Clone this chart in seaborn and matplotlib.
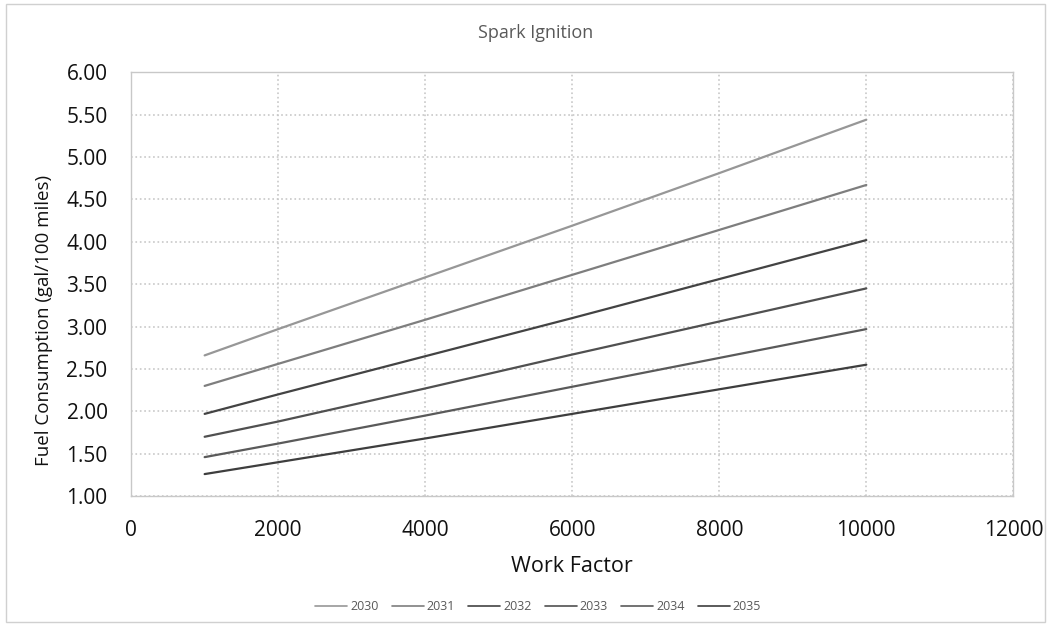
import pandas as pd
import numpy as np
import matplotlib.pyplot as plt
import seaborn as sns

# work factor points
work_factor = [1000, 2000, 4000, 6000, 8000, 10000]
years = ['2030', '2031', '2032', '2033', '2034', '2035']

fc_2030 = [2.66, 2.97, 3.58, 4.19, 4.81, 5.44]
fc_2031 = [2.30, 2.56, 3.08, 3.61, 4.14, 4.67]
fc_2032 = [1.97, 2.20, 2.65, 3.10, 3.56, 4.02]
fc_2033 = [1.70, 1.88, 2.27, 2.67, 3.06, 3.45]
fc_2034 = [1.46, 1.62, 1.95, 2.29, 2.63, 2.97]
fc_2035 = [1.26, 1.40, 1.68, 1.97, 2.26, 2.55]

series = [fc_2030, fc_2031, fc_2032, fc_2033, fc_2034, fc_2035]
df = pd.concat([pd.DataFrame({'Work Factor': work_factor, 'fc': s, 'year': y})
                for y, s in zip(years, series)])

sns.set_style('white')
plt.rcParams['font.family'] = ['Open Sans', 'DejaVu Sans']

fig = plt.figure(figsize=(10.49, 6.28), dpi=100)
ax = fig.add_axes([0.125, 0.21, 0.841, 0.675])

greys = ['#979797', '#7e7e7e', '#434343', '#505050', '#5a5a5a', '#3e3e3e']
sns.lineplot(data=df, x='Work Factor', y='fc', hue='year', palette=greys,
             linewidth=1.6, ax=ax, legend=True)

ax.set_xlim(0, 12000)
ax.set_ylim(1.0, 6.0)
ax.set_xticks(range(0, 12001, 2000))
ax.set_yticks(np.arange(1.0, 6.01, 0.5))
ax.set_yticklabels([f'{v:.2f}' for v in np.arange(1.0, 6.01, 0.5)])
ax.tick_params(labelsize=15, colors='#111111', length=0)
ax.tick_params(axis='y', pad=17)
ax.tick_params(axis='x', pad=17)
ax.grid(True, color='#c8c8c8', linestyle=':', linewidth=1.2)
for s in ax.spines.values():
    s.set_color('#c8c8c8')
    s.set_linewidth(1)

ax.set_xlabel('Work Factor', fontsize=15.5, color='#111111', labelpad=11)
ax.set_ylabel('Fuel Consumption (gal/100 miles)', fontsize=13.5, color='#111111')
ax.yaxis.set_label_coords(-0.088, 0.415)
fig.text(536 / 1049, 0.947, 'Spark Ignition', fontsize=13, color='#595959',
         ha='center', va='center')

h, l = ax.get_legend_handles_labels()
ax.get_legend().remove()
for hh in h:
    hh.set_linewidth(1.2)
fig.legend(h, l, loc='center', bbox_to_anchor=(0.513, 1 - 607 / 628), ncol=6,
           frameon=False, fontsize=9, handlelength=2.55, columnspacing=1.05,
           handletextpad=0.25, labelcolor='#595959')

fig.patches.append(plt.Rectangle((0.006, 0.01), 0.99, 0.984, transform=fig.transFigure,
                                 fill=False, edgecolor='#d0d0d0', linewidth=1))

plt.savefig('out.png', dpi=100)
